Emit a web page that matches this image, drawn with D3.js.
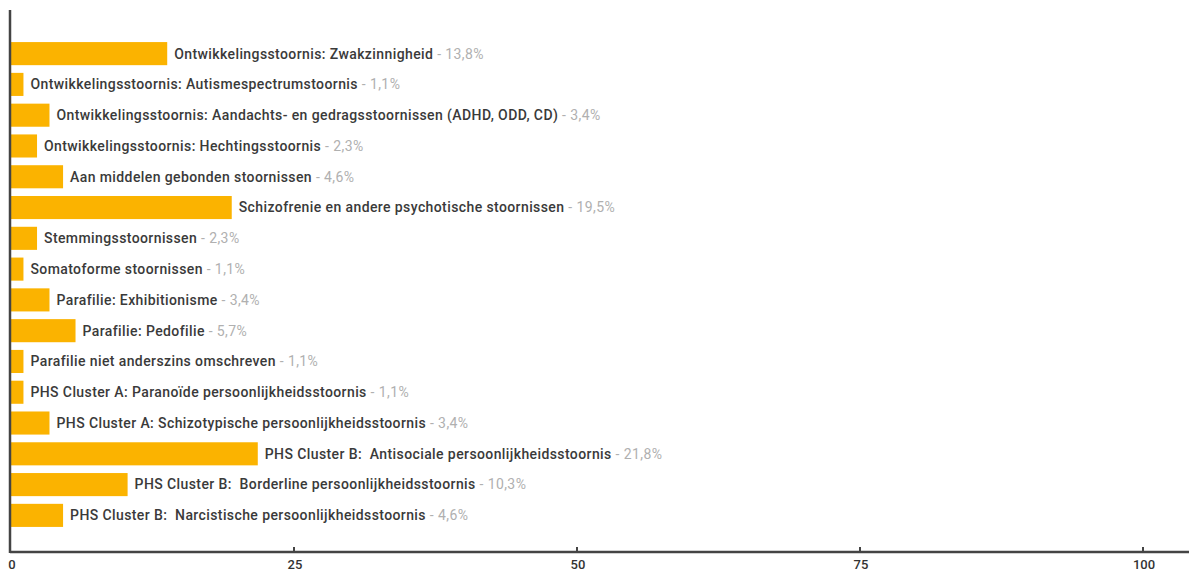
<!DOCTYPE html>
<html><head><meta charset="utf-8">
<script src="https://cdn.jsdelivr.net/npm/d3@7"></script>
<style>body{margin:0;background:#fff}svg{display:block}text{font-family:Roboto,"DejaVu Sans",sans-serif;white-space:pre}</style>
</head><body><svg id="c" width="1189" height="572"></svg>
<script>
const categories = [
"Ontwikkelingsstoornis: Zwakzinnigheid",
"Ontwikkelingsstoornis: Autismespectrumstoornis",
"Ontwikkelingsstoornis: Aandachts- en gedragsstoornissen (ADHD, ODD, CD)",
"Ontwikkelingsstoornis: Hechtingsstoornis",
"Aan middelen gebonden stoornissen",
"Schizofrenie en andere psychotische stoornissen",
"Stemmingsstoornissen",
"Somatoforme stoornissen",
"Parafilie: Exhibitionisme",
"Parafilie: Pedofilie",
"Parafilie niet anderszins omschreven",
"PHS Cluster A: Paranoïde persoonlijkheidsstoornis",
"PHS Cluster A: Schizotypische persoonlijkheidsstoornis",
"PHS Cluster B:  Antisociale persoonlijkheidsstoornis",
"PHS Cluster B:  Borderline persoonlijkheidsstoornis",
"PHS Cluster B:  Narcistische persoonlijkheidsstoornis"
];
const values = [13.8,1.1,3.4,2.3,4.6,19.5,2.3,1.1,3.4,5.7,1.1,1.1,3.4,21.8,10.3,4.6];
const valueLabels = ["13,8%","1,1%","3,4%","2,3%","4,6%","19,5%","2,3%","1,1%","3,4%","5,7%","1,1%","1,1%","3,4%","21,8%","10,3%","4,6%"];
const xTicks = [0,25,50,75,100];

const svg = d3.select("#c");
const x = d3.scaleLinear().domain([0,100]).range([11,1143]);
const y = d3.scaleBand().domain(categories).range([39,530]).paddingInner(0.25).paddingOuter(0.1);

svg.selectAll("rect.bar").data(values).join("rect")
  .attr("class","bar")
  .attr("x", x(0))
  .attr("y", (d,i)=>y(categories[i]))
  .attr("width", d=>x(d)-x(0))
  .attr("height", y.bandwidth())
  .attr("fill","#fbb300");

const lab = svg.selectAll("text.lab").data(values).join("text")
  .attr("class","lab")
  .attr("x", d=>x(d)+7)
  .attr("y", (d,i)=>y(categories[i])+y.bandwidth()/2)
  .attr("dy","0.35em")
  .attr("font-size",14)
  .attr("font-weight",500)
  .attr("letter-spacing",0.4);
lab.append("tspan").attr("fill","#3a3a3a").text((d,i)=>categories[i]);
lab.append("tspan").attr("fill","#b0b0b0").attr("font-weight",400).text((d,i)=>" - "+valueLabels[i]);

// axes
const axisY = 552;
svg.append("line").attr("x1",10).attr("x2",1189).attr("y1",axisY).attr("y2",axisY)
  .attr("stroke","#444").attr("stroke-width",2.5);
svg.append("line").attr("x1",10).attr("x2",10).attr("y1",10).attr("y2",axisY+1)
  .attr("stroke","#444").attr("stroke-width",2.5);
svg.selectAll("line.tick").data(xTicks.slice(1)).join("line")
  .attr("class","tick")
  .attr("x1",d=>x(d)).attr("x2",d=>x(d)).attr("y1",axisY-5).attr("y2",axisY)
  .attr("stroke","#444").attr("stroke-width",2);
svg.selectAll("text.tl").data(xTicks).join("text")
  .attr("class","tl")
  .attr("x",d=>x(d)+1).attr("y",569)
  .attr("text-anchor","middle").attr("font-size",13).attr("font-weight",500).attr("fill","#333")
  .text(d=>d);
</script></body></html>
